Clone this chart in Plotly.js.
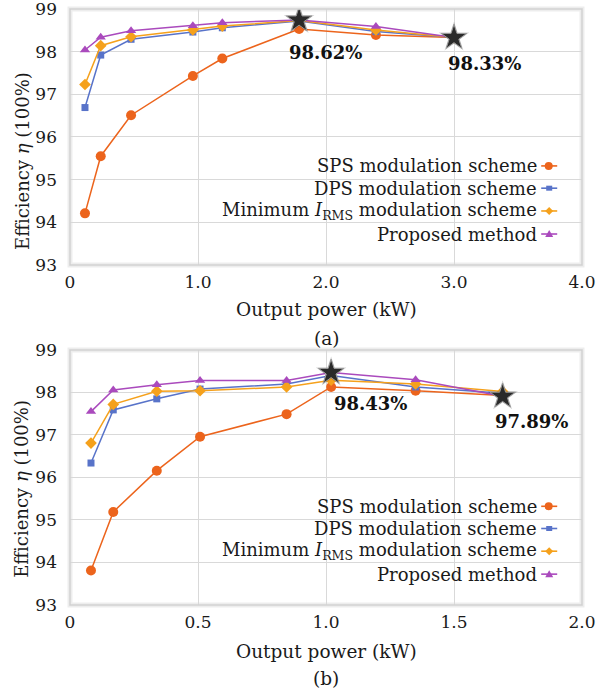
<!DOCTYPE html>
<html>
<head>
<meta charset="utf-8">
<script src="https://cdn.plot.ly/plotly-3.0.1.min.js"></script>
<style>
html,body{margin:0;padding:0;background:#fff;}
#chart{width:596px;height:693px;}
</style>
</head>
<body>
<div id="chart"></div>
<script>
// ---------- DATA ----------
var seriesNames = ['SPS modulation scheme', 'DPS modulation scheme',
  'Minimum <i>I</i><sub>RMS</sub> modulation scheme', 'Proposed method'];

var powerA = [0.117, 0.24, 0.477, 0.96, 1.19, 1.79, 2.39, 3.0];
var spsA   = [94.21, 95.55, 96.51, 97.43, 97.84, 98.53, 98.39, 98.33];
var dpsA   = [96.69, 97.92, 98.29, 98.46, 98.56, 98.72, 98.47, 98.33];
var minA   = [97.23, 98.14, 98.35, 98.51, 98.60, 98.73, 98.51, 98.33];
var propA  = [98.04, 98.34, 98.49, 98.61, 98.68, 98.74, 98.59, 98.33];
var starXA = [1.79, 3.0];
var starYA = [98.74, 98.33];
var starLabelA = ['98.62%', '98.33%'];

var powerB = [0.082, 0.169, 0.339, 0.508, 0.846, 1.02, 1.35, 1.69];
var spsB   = [93.81, 95.19, 96.16, 96.96, 97.49, 98.13, 98.04, 97.93];
var dpsB   = [96.34, 97.59, 97.85, 98.08, 98.20, 98.40, 98.13, 97.98];
var minB   = [96.81, 97.72, 98.03, 98.04, 98.13, 98.29, 98.20, 98.02];
var propB  = [97.55, 98.06, 98.18, 98.28, 98.28, 98.47, 98.30, 97.91];
var starXB = [1.02, 1.69];
var starYB = [98.47, 97.91];
var starLabelB = ['98.43%', '97.89%'];

var xTickValsA = [0, 1, 2, 3, 4];
var xTickTextA = ['0', '1.0', '2.0', '3.0', '4.0'];
var xTickValsB = [0, 0.5, 1, 1.5, 2];
var xTickTextB = ['0', '0.5', '1.0', '1.5', '2.0'];
var yTickVals = [93, 94, 95, 96, 97, 98, 99];

// ---------- STYLE ----------
var FONT = 'DejaVu Serif';
var TXT = '#1a1a1a';
var colors = ['#EC641C', '#5873C9', '#F5A11C', '#AA4ABD'];
var symbols = ['circle', 'square', 'diamond', 'triangle-up'];
var msizes = [10, 7, 9, 9];

function seriesTraces(x, ys, xa, ya) {
  return ys.map(function (y, i) {
    return {
      x: x, y: y, xaxis: xa, yaxis: ya, type: 'scatter', mode: 'lines+markers',
      name: seriesNames[i], showlegend: false,
      line: {color: colors[i], width: 1.5},
      marker: {color: colors[i], symbol: symbols[i], size: msizes[i]},
      hoverinfo: 'skip'
    };
  });
}
function starTraces(x, y, xa, ya) {
  return [{
    x: x, y: y, xaxis: xa, yaxis: ya, type: 'scatter', mode: 'markers', showlegend: false,
    marker: {symbol: 'star', size: 23, color: 'rgba(0,0,0,0.18)', line: {width: 0}},
    hoverinfo: 'skip'
  }, {
    x: x, y: y, xaxis: xa, yaxis: ya, type: 'scatter', mode: 'markers', showlegend: false,
    marker: {symbol: 'star', size: 19, color: '#2a2a2a', line: {color: '#9a9a9a', width: 1}},
    hoverinfo: 'skip'
  }];
}

var data = []
  .concat(seriesTraces(powerA, [spsA, dpsA, minA, propA], 'x', 'y'))
  .concat(starTraces(starXA, starYA, 'x', 'y'))
  .concat(seriesTraces(powerB, [spsB, dpsB, minB, propB], 'x2', 'y2'))
  .concat(starTraces(starXB, starYB, 'x2', 'y2'));

function xaxisDef(range, vals, text, anchor) {
  return {
    domain: [0, 1], anchor: anchor, range: range, tickvals: vals, ticktext: text,
    showgrid: true, gridcolor: '#d9d9d9', gridwidth: 1, zeroline: false,
    showline: false, ticks: '', ticklabelstandoff: 5, ticklabeloverflow: 'allow',
    tickfont: {family: FONT, size: 17, color: TXT}, fixedrange: true
  };
}
function yaxisDef(domain, anchor) {
  return {
    domain: domain, anchor: anchor, range: [93, 99], tickvals: yTickVals,
    showgrid: true, gridcolor: '#d9d9d9', gridwidth: 1, zeroline: false,
    showline: false, ticks: '', ticklabelstandoff: 12, ticklabeloverflow: 'allow',
    tickfont: {family: FONT, size: 17, color: TXT}, fixedrange: true
  };
}

var annotations = [];
var shapes = [];
var legendY = [0.387, 0.300, 0.211, 0.121];

function addPanel(xr, yr, starX, starY, labels, offsets, ytitleY, xtitlePx, tagPx, tag) {
  for (var i = 0; i < 4; i++) {
    annotations.push({
      xref: xr + ' domain', yref: yr + ' domain', x: 0.916, y: legendY[i],
      xanchor: 'right', yanchor: 'middle', showarrow: false, text: seriesNames[i],
      font: {family: FONT, size: 18, color: TXT}
    });
    shapes.push({
      type: 'line', xref: xr + ' domain', yref: yr + ' domain',
      xsizemode: 'pixel', ysizemode: 'pixel', xanchor: 0.934, yanchor: legendY[i],
      x0: -7, x1: 9, y0: 0, y1: 0, line: {color: colors[i], width: 1.6}
    });
  }
  shapes.push({type: 'circle', xref: xr + ' domain', yref: yr + ' domain',
    xsizemode: 'pixel', ysizemode: 'pixel', xanchor: 0.934, yanchor: legendY[0],
    x0: -3.5, x1: 4.5, y0: -4, y1: 4, fillcolor: colors[0], line: {width: 0}});
  shapes.push({type: 'rect', xref: xr + ' domain', yref: yr + ' domain',
    xsizemode: 'pixel', ysizemode: 'pixel', xanchor: 0.934, yanchor: legendY[1],
    x0: -2, x1: 4, y0: -2.5, y1: 2.5, fillcolor: colors[1], line: {width: 0}});
  shapes.push({type: 'path', xref: xr + ' domain', yref: yr + ' domain',
    xsizemode: 'pixel', ysizemode: 'pixel', xanchor: 0.934, yanchor: legendY[2],
    path: 'M1,-4 L5,0 L1,4 L-3,0 Z', fillcolor: colors[2], line: {width: 0}});
  shapes.push({type: 'path', xref: xr + ' domain', yref: yr + ' domain',
    xsizemode: 'pixel', ysizemode: 'pixel', xanchor: 0.934, yanchor: legendY[3],
    path: 'M-3,-3 L5,-3 L1,4 Z', fillcolor: colors[3], line: {width: 0}});

  shapes.push({type: 'rect', xref: xr + ' domain', yref: yr + ' domain',
    x0: 0, x1: 1, y0: 0, y1: 1, line: {color: 'rgba(0,0,0,0.07)', width: 5}, layer: 'below'});
  shapes.push({type: 'rect', xref: xr + ' domain', yref: yr + ' domain',
    x0: 0, x1: 1, y0: 0, y1: 1, line: {color: '#d2d2d2', width: 1.5}, layer: 'above'});

  for (var k = 0; k < starX.length; k++) {
    annotations.push({
      xref: xr, yref: yr, x: starX[k], y: starY[k], xanchor: 'left', yanchor: 'middle',
      xshift: offsets[k][0], yshift: offsets[k][1], showarrow: false,
      text: '<b>' + labels[k] + '</b>', font: {family: FONT, size: 18, color: '#111'}
    });
  }
  annotations.push({
    xref: 'paper', yref: yr + ' domain', x: -0.094, y: ytitleY, xanchor: 'center', yanchor: 'middle',
    textangle: -90, showarrow: false, text: 'Efficiency <i>η</i> (100%)',
    font: {family: FONT, size: 18, color: TXT}
  });
  annotations.push({
    xref: 'paper', yref: 'paper', x: 0.5, y: (605 - xtitlePx) / 596, xanchor: 'center', yanchor: 'middle',
    showarrow: false, text: 'Output power (kW)', font: {family: FONT, size: 18.5, color: TXT}
  });
  annotations.push({
    xref: 'paper', yref: 'paper', x: 0.5, y: (605 - tagPx) / 596, xanchor: 'center', yanchor: 'middle',
    showarrow: false, text: tag, font: {family: FONT, size: 18.5, color: TXT}
  });
}

addPanel('x', 'y', starXA, starYA, starLabelA, [[-12, -32], [-8, -26]], 0.406, 309, 338, '(a)');
addPanel('x2', 'y2', starXB, starYB, starLabelB, [[1, -31], [-10, -25]], 0.455, 651, 678, '(b)');

var layout = {
  width: 596, height: 693,
  margin: {l: 70, r: 14, t: 9, b: 88},
  paper_bgcolor: '#fff', plot_bgcolor: '#fff',
  showlegend: false,
  xaxis: xaxisDef([0, 4], xTickValsA, xTickTextA, 'y'),
  yaxis: yaxisDef([0.5705, 1], 'x'),
  xaxis2: xaxisDef([0, 2], xTickValsB, xTickTextB, 'y2'),
  yaxis2: yaxisDef([0, 0.4279], 'x2'),
  annotations: annotations,
  shapes: shapes
};

Plotly.newPlot('chart', data, layout, {displayModeBar: false, staticPlot: true});
</script>
</body>
</html>
